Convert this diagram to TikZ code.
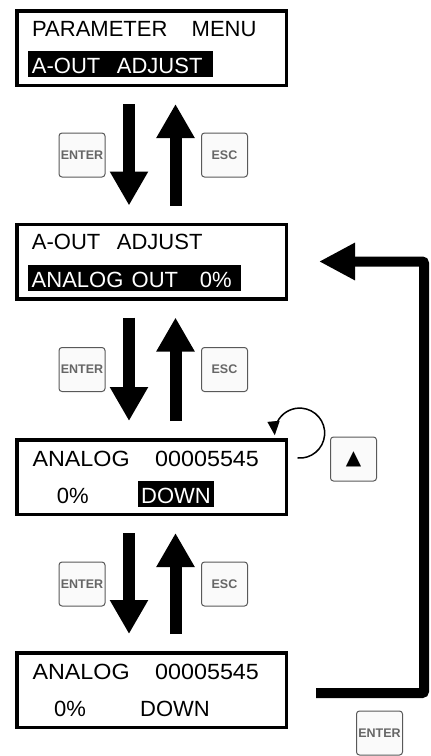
\documentclass[tikz,border=0pt]{standalone}
\usepackage{fontspec}
\setmainfont{Liberation Sans}
\newfontfamily\lcdwide[FakeStretch=1.06]{Liberation Sans}
\newfontfamily\symfont{DejaVu Sans}
\usetikzlibrary{arrows.meta, positioning}
\tikzset{
    lcdbox/.style={draw, line width=3.5pt, minimum width=269.5pt, minimum height=74.5pt, inner sep=0pt},
    lcdtext/.style={inner sep=0pt, anchor=base west, font=\fontsize{22}{26}\selectfont},
    lcdwidetext/.style={lcdtext, font=\lcdwide\fontsize{22}{26}\selectfont},
    lcdsel/.style={lcdtext, fill=black, text=white, inner xsep=3.5pt, text height=22pt, text depth=3.5pt},
    keybox/.style={draw=black!65, line width=1pt, fill=black!2, rounded corners=3pt, minimum width=46pt, minimum height=44pt, inner sep=0pt, text=black!60, font=\fontsize{12.5}{13}\selectfont\bfseries},
    navarrow/.style={line width=12pt, -{Triangle[length=34pt,width=36pt]}, shorten <=17pt, shorten >=17pt},
    backarrow/.style={line width=10pt, rounded corners=2pt, -{Triangle[length=36pt,width=35pt]}},
    looparrow/.style={line width=1.5pt, -{Triangle[length=14pt,width=12pt]}},
}

\begin{document}
\begin{tikzpicture}[x=1pt, y=-1pt]
\useasboundingbox (0,0) rectangle (431,756);

% display screens
\node[lcdbox] (box1) at (151.5,48) {};
\node[lcdbox] (box2) at (151.5,261.5) {};
\node[lcdbox] (box3) at (151.5,477) {};
\node[lcdbox] (box4) at (151.5,690) {};

% screen contents
\node[lcdtext] (menu) at (32,36.7) {\makebox[159.5pt][l]{PARAMETER}MENU};
\node[lcdsel] (aoutsel) at (28.2,73.3) {\makebox[178pt][l]{\makebox[85pt][l]{A-OUT}ADJUST}};
\node[lcdtext] (aout) at (31.7,249.7) {\makebox[85pt][l]{A-OUT}ADJUST};
\node[lcdsel] (anasel) at (28,287.3) {\makebox[206pt][l]{\makebox[100pt][l]{ANALOG}\makebox[68.3pt][l]{OUT}0\%}};
\node[lcdwidetext] (ana3) at (32.3,466.7) {\makebox[122.7pt][l]{ANALOG}00005545};
\node[lcdtext] (pct3) at (56.7,503.3) {0\%};
\node[lcdsel] (dir3) at (137.5,503.3) {DOWN};
\node[lcdwidetext] (ana4) at (32.3,679.5) {\makebox[122.7pt][l]{ANALOG}00005545};
\node[lcdtext] (pct4) at (54,716.5) {0\%};
\node[lcdtext] (dir4) at (140,716.5) {DOWN};

% keys
\node[keybox] (enter1) at (82,155) {ENTER};
\node[keybox] (esc1) at (224.5,155) {ESC};
\node[keybox] (enter2) at (82,369.5) {ENTER};
\node[keybox] (esc2) at (224.5,369.5) {ESC};
\node[keybox] (enter3) at (82,584) {ENTER};
\node[keybox] (esc3) at (224.5,584) {ESC};
\node[keybox, text=black] (upkey) at (353.5,459) {\symfont\fontsize{20}{20}\selectfont ▲};
\node[keybox] (enter4) at (379.5,733) {ENTER};

% enter / esc moves
\draw[navarrow] ([xshift=-22.5pt]box1.south) -- ([xshift=-22.5pt]box2.north);
\draw[navarrow] ([xshift=24pt]box2.north) -- ([xshift=24pt]box1.south);
\draw[navarrow] ([xshift=-22.5pt]box2.south) -- ([xshift=-22.5pt]box3.north);
\draw[navarrow] ([xshift=24pt]box3.north) -- ([xshift=24pt]box2.south);
\draw[navarrow] ([xshift=-22.5pt]box3.south) -- ([xshift=-22.5pt]box4.north);
\draw[navarrow] ([xshift=24pt]box4.north) -- ([xshift=24pt]box3.south);

% up key toggles the direction
\draw[looparrow] ([shift={(9.5,-19)}]box3.east) arc[start angle=95, end angle=-185, radius=25];

% enter returns to the output menu
\coordinate (turn) at (424,693);
\draw[backarrow] ([shift={(28,3)}]box4.east) -- (turn) |- ([xshift=31pt]box2.east);
\end{tikzpicture}
\end{document}
